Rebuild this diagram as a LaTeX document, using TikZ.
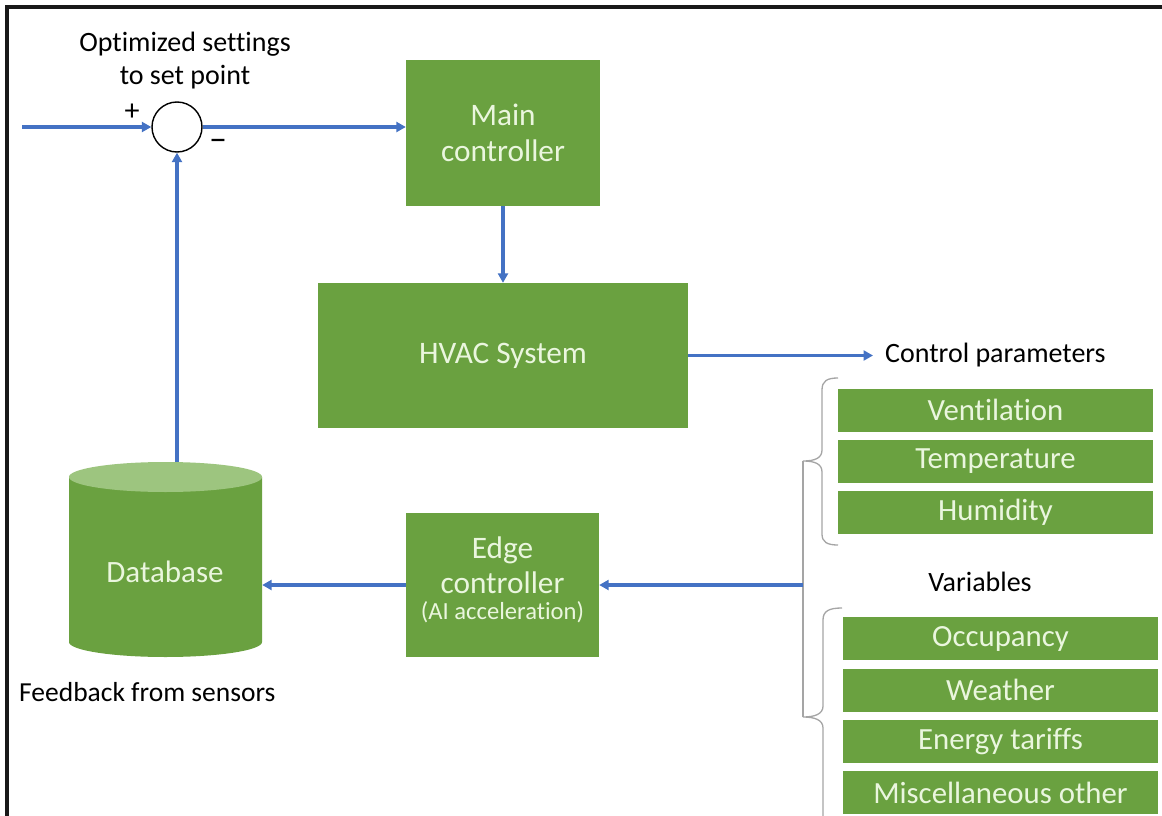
\documentclass[tikz,border=0pt]{standalone}
\usepackage{fontspec}
\setmainfont{Carlito}[Ligatures={NoCommon}]
\usetikzlibrary{arrows.meta}
\definecolor{boxgreen}{RGB}{106,161,64}
\definecolor{lightgreen}{RGB}{157,197,127}
\definecolor{boxtext}{RGB}{234,246,222}
\definecolor{flowblue}{RGB}{68,114,196}
\definecolor{bracegray}{RGB}{165,165,165}
\begin{document}
\begin{tikzpicture}[x=1pt,y=-1pt,
  block/.style={fill=boxgreen, draw=none, inner sep=0pt, text=boxtext, align=center,
    font=\fontsize{31.3}{36}\selectfont},
  item/.style={fill=boxgreen, draw=none, inner sep=0pt, text=boxtext,
    minimum width=315pt, minimum height=43pt, font=\fontsize{30.8}{32}\selectfont},
  flow/.style={draw=flowblue, line width=3.1pt, -{Triangle[length=9.5pt,width=10pt]}},
  txt/.style={font=\fontsize{28}{33}\selectfont, align=center, inner sep=0pt, text=black},
  brace/.style={draw=bracegray, line width=1.3pt}]
\useasboundingbox (0,0) rectangle (1162,816);
\fill[white] (0,0) rectangle (1162,816);

% outer frame (top and left edges)
\draw[line width=3.2pt, black!90] (7,830) -- (7,7) -- (1175,7);

% summing junction and set point
\node[circle, draw=black, line width=1.4pt, minimum size=50pt, inner sep=0pt] (sum) at (177,127) {};
\node[txt] (setpt) at (185,61) {Optimized settings\\to set point};
\node[txt, font=\fontsize{30}{33}\selectfont] (plus) at (132,112) {+};
\node[txt, font=\fontsize{36}{36}\selectfont] (minus) at (218,145) {–};
\coordinate (in) at (22,127);

% main blocks
\node[block, minimum width=194pt, minimum height=146pt] (main) at (503,133) {Main\\controller};
\node[block, minimum width=370pt, minimum height=145pt] (hvac) at (503,355.5) {HVAC System};
\node[block, minimum width=193pt, minimum height=144pt] (edge) at (502.5,585) {};
\node[txt, text=boxtext, font=\fontsize{31.3}{35}\selectfont] (edgetxt) at (502.5,565) {Edge\\controller};
\node[txt, text=boxtext, font=\fontsize{24.6}{28}\selectfont] (edgesub) at (502.5,612) {(AI acceleration)};

% database cylinder
\node[minimum width=193pt, minimum height=195pt, inner sep=0pt] (db) at (165.5,559.5) {};
\fill[boxgreen] (69,477) -- (69,642)
  arc[start angle=180, end angle=360, x radius=96.5pt, y radius=15pt] -- (262,477) -- cycle;
\fill[lightgreen] (165.5,477) ellipse[x radius=96.5pt, y radius=15pt];
\node[txt, text=boxtext, font=\fontsize{31}{36}\selectfont] (dbtxt) at (165,572) {Database};
\node[txt, anchor=west, font=\fontsize{27.5}{33}\selectfont] (fb) at (19,692) {Feedback from sensors};

% control parameters
\node[txt, anchor=west] (cp) at (885,355) {Control parameters};
\node[item] (vent) at (995.5,410) {Ventilation};
\node[item] (temp) at (995.5,461.5) {Temperature};
\node[item] (hum) at (995.5,512.5) {Humidity};

% variables
\node[txt] (var) at (980,582) {Variables};
\node[item] (occ) at (1000.5,638.5) {Occupancy};
\node[item] (wea) at (1000.5,690) {Weather};
\node[item] (tar) at (1000.5,741.5) {Energy tariffs};
\node[item] (misc) at (1000.5,792.5) {Miscellaneous other};

% braces grouping the lists
\coordinate (b1) at (803,461);
\coordinate (b2) at (803,717);
\coordinate (tap) at (803,585);
\draw[brace] (838,378) .. controls (827,378) and (822,381) .. (822,390) -- (822,450)
  .. controls (822,458) and (815,461) .. (b1)
  .. controls (815,461) and (822,464) .. (822,472) -- (822,534)
  .. controls (822,542) and (827,545) .. (838,545);
\draw[brace] (842,608) .. controls (829,608) and (823,611) .. (823,620) -- (823,706)
  .. controls (823,714) and (815,717) .. (b2)
  .. controls (815,717) and (823,720) .. (823,728) -- (823,830);
\draw[brace] (b1) -- (b2);

% signal flow
\draw[flow] (in) -- (sum.west);
\draw[flow] (sum.east) -- (sum.east -| main.west);
\draw[flow] (main.south) -- (main.south |- hvac.north);
\draw[flow, shorten >=12pt] (hvac.east) -- (hvac.east -| cp.west);
\draw[flow] (tap) -- (edge.east);
\draw[flow] (edge.west) -- (edge.west -| db.east);
\draw[flow] (sum |- db.north) -- (sum.south);
\end{tikzpicture}
\end{document}
